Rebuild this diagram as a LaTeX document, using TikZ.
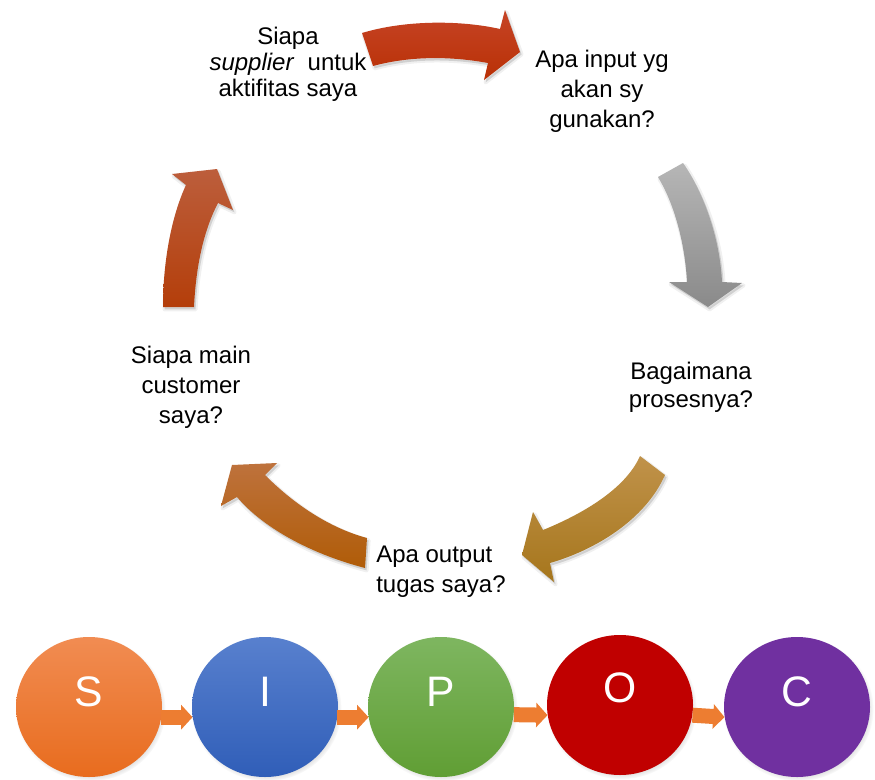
\documentclass[tikz,border=0pt]{standalone}
\usepackage{fontspec}
\setmainfont{Liberation Sans}
\usetikzlibrary{shapes.geometric,arrows.meta,shadows}

% curved arrow fills
\definecolor{redTopA}{RGB}{198,68,38}
\definecolor{redTopB}{RGB}{185,48,5}
\definecolor{greyA}{RGB}{182,182,182}
\definecolor{greyB}{RGB}{138,138,138}
\definecolor{goldA}{RGB}{192,146,74}
\definecolor{goldB}{RGB}{166,118,28}
\definecolor{brownA}{RGB}{190,114,60}
\definecolor{brownB}{RGB}{176,92,8}
\definecolor{rustA}{RGB}{188,94,60}
\definecolor{rustB}{RGB}{180,62,10}
% SIPOC discs
\definecolor{sTop}{RGB}{241,140,82}
\definecolor{sBot}{RGB}{232,108,30}
\definecolor{iTop}{RGB}{88,128,206}
\definecolor{iBot}{RGB}{48,94,184}
\definecolor{pTop}{RGB}{126,182,96}
\definecolor{pBot}{RGB}{96,158,52}
\definecolor{oFill}{RGB}{192,0,0}
\definecolor{cFill}{RGB}{112,48,160}
\definecolor{linkOrange}{RGB}{237,125,49}

% outlines of the five curved arrows of the cycle
\def\cycArrowTop{(362,33) .. controls (405,20) and (460,20) .. (500,29) -- (505,10) -- (520,52) -- (484,80) -- (488,63) .. controls (450,56) and (410,56) .. (373,66) -- cycle}
\def\cycArrowRight{(658,177) -- (683,163) .. controls (705,195) and (720,240) .. (722,282) -- (742,283) -- (708,307) -- (669,282) -- (687,282) .. controls (685,245) and (675,205) .. (658,177) -- cycle}
\def\cycArrowLowRight{(640,456) -- (665,475) .. controls (645,520) and (595,550) .. (550,563) -- (554,582) -- (522,555) -- (533,512) -- (543,530) .. controls (580,515) and (625,490) .. (640,456) -- cycle}
\def\cycArrowLowLeft{(367,538) -- (365,568) .. controls (315,555) and (265,530) .. (237,497) -- (221,506) -- (232,465) -- (277,463) -- (265,475) .. controls (295,505) and (330,528) .. (367,538) -- cycle}
\def\cycArrowLeft{(163,307) -- (194,307) .. controls (196,265) and (204,230) .. (218,203) -- (233,210) -- (217,169) -- (172,174) -- (186,185) .. controls (172,215) and (163,260) .. (163,307) -- cycle}

\begin{document}
\begin{tikzpicture}[x=0.75pt,y=-0.75pt,
  question/.style={font=\fontsize{18}{22.5}\selectfont, align=center, text=black, inner sep=0pt},
  disc/.style={ellipse, minimum width=109.5pt, minimum height=105pt, inner sep=0pt,
    circular drop shadow={shadow scale=1.03, shadow xshift=1pt, shadow yshift=-1.5pt, opacity=0.45}},
  letter/.style={font=\fontsize{32}{38}\selectfont, text=white, yshift=11.25pt},
  link/.style={draw=linkOrange, line width=11.25pt, -{Triangle[length=8.5pt,width=18pt]}},
  arrowshadow/.style={fill=black, fill opacity=0.13, draw=black, draw opacity=0.06, line width=3pt, line join=round, xshift=1.2pt, yshift=-1.8pt}
]
\useasboundingbox[fill=white] (0,0) rectangle (875,779);

% curved arrows of the cycle, each with a soft shadow
\path[arrowshadow] \cycArrowTop;
\path[top color=redTopA, bottom color=redTopB] \cycArrowTop;
\path[arrowshadow] \cycArrowRight;
\path[top color=greyA, bottom color=greyB] \cycArrowRight;
\path[arrowshadow] \cycArrowLowRight;
\path[top color=goldA, bottom color=goldB] \cycArrowLowRight;
\path[arrowshadow] \cycArrowLowLeft;
\path[top color=brownA, bottom color=brownB] \cycArrowLowLeft;
\path[arrowshadow] \cycArrowLeft;
\path[top color=rustA, bottom color=rustB] \cycArrowLeft;

% questions around the cycle
\node[question, font=\fontsize{18}{19.5}\selectfont] (qSupplier) at (288,64.5) {Siapa\\\textit{supplier}\ \ untuk\\aktifitas saya};
\node[question] (qInput) at (602,91) {Apa input yg\\akan sy\\gunakan?};
\node[question, font=\fontsize{18}{21}\selectfont] (qProcess) at (691,387.5) {Bagaimana\\prosesnya?};
\node[question, align=left, anchor=west] (qOutput) at (376,572) {Apa output\\tugas saya?};
\node[question] (qCustomer) at (191,387.5) {Siapa main\\customer\\saya?};

% SIPOC chain
\node[disc, top color=sTop, bottom color=sBot, label={[letter]center:S}] (S) at (89,707) {};
\node[disc, top color=iTop, bottom color=iBot, label={[letter]center:I}] (I) at (265,707) {};
\node[disc, top color=pTop, bottom color=pBot, label={[letter]center:P}] (P) at (441,707) {};
\node[disc, fill=oFill, label={[letter, yshift=1.5pt]center:O}] (O) at (620,705) {};
\node[disc, fill=cFill, label={[letter]center:C}] (C) at (797,707) {};

\draw[link] (S.-8) -- (I.188);
\draw[link] (I.-8) -- (P.188);
\draw[link] (P.-6) -- (O.188);
\draw[link] (O.-8) -- (C.188);
\end{tikzpicture}
\end{document}
